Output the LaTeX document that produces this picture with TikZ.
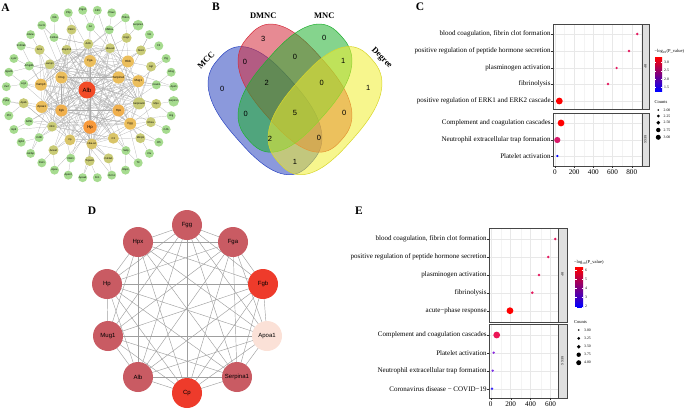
\documentclass[tikz,border=0pt]{standalone}
\usepackage{fontspec}
\setmainfont{Liberation Serif}
\setsansfont{Liberation Sans}
\usepackage{xcolor}
\usepackage{tikz}
\usetikzlibrary{backgrounds}
\usetikzlibrary{calc}

\definecolor{netred}{HTML}{F24B27}
\definecolor{nethp}{HTML}{F89A3C}
\definecolor{netorange}{HTML}{F0B04E}
\definecolor{netyellow}{HTML}{EBBE5C}
\definecolor{netolivey}{HTML}{D9C468}
\definecolor{netolive}{HTML}{C9CB76}
\definecolor{netgreen}{HTML}{A6DB8F}
\definecolor{edgegray}{HTML}{ABABAB}
\definecolor{hubrose}{HTML}{C95B63}
\definecolor{hubred}{HTML}{EE3B2B}
\definecolor{hubpale}{HTML}{FBE1D7}
\definecolor{vennblue}{HTML}{2B45C0}
\definecolor{vennred}{HTML}{D42A3A}
\definecolor{venngreen}{HTML}{20B030}
\definecolor{vennyellow}{HTML}{F0EE30}
\definecolor{dotA}{HTML}{E5195F}
\definecolor{dotB}{HTML}{D81B6A}
\definecolor{dotC}{HTML}{EC1556}
\definecolor{dotV}{HTML}{8B2BE0}
\definecolor{dotW}{HTML}{7B2FE8}
\definecolor{dotU}{HTML}{3A2AF5}
\definecolor{barmid}{HTML}{C2009E}

% one set of the four-set diagram (a flattened ellipse), in the unit square of panel B
\newcommand{\vennellipse}[4]{%
  \draw[#4, declare function={vcs(\t)=0.327*pow(abs(cos(\t)),0.769)*cos(\t)/abs(cos(\t));
                               vsn(\t)=0.187*pow(abs(sin(\t)),0.769)*sin(\t)/abs(sin(\t));}]
    plot[domain=1:356, samples=72, smooth cycle, variable=\t]
    ({295+200*(#1+vcs(\t)*cos(#3)-vsn(\t)*sin(#3)-0.5)},
     {216.4-225*(#2+vcs(\t)*sin(#3)+vsn(\t)*cos(#3))});}

\tikzset{
  panellab/.style={font=\bfseries\fontsize{11.5}{12}\selectfont, inner sep=0pt},
  anode/.style={circle, inner sep=0pt, font=\sffamily\fontsize{2.6}{3}\selectfont},
  agrn/.style={anode, fill=netgreen, minimum size=9pt},
  aoli/.style={anode, fill=netolive, minimum size=10pt},
  aolY/.style={anode, fill=netolivey, minimum size=11pt},
  ayel/.style={anode, fill=netyellow, minimum size=12pt, font=\sffamily\fontsize{3}{3.5}\selectfont},
  aora/.style={anode, fill=netorange, minimum size=12pt, font=\sffamily\fontsize{3}{3.5}\selectfont},
  ahp/.style={anode, fill=nethp, minimum size=13.5pt, font=\sffamily\fontsize{4.2}{5}\selectfont},
  aalb/.style={anode, fill=netred, minimum size=17pt, font=\sffamily\fontsize{6}{7}\selectfont},
  aedge/.style={draw=edgegray, line width=0.2pt},
  dnode/.style={circle, inner sep=0pt, minimum size=30pt, fill=hubrose, font=\sffamily\fontsize{6}{7}\selectfont},
  dtop/.style={dnode, fill=hubred},
  dlow/.style={dnode, fill=hubpale},
  dedge/.style={draw=gray!75, line width=0.45pt},
  vblue/.style={draw=vennblue, fill=vennblue, fill opacity=0.55, line width=0.5pt},
  vred/.style={draw=vennred, fill=vennred, fill opacity=0.55, line width=0.5pt},
  vgreen/.style={draw=venngreen, fill=venngreen, fill opacity=0.55, line width=0.5pt},
  vyellow/.style={draw=vennyellow!90!black, fill=vennyellow, fill opacity=0.55, line width=0.5pt},
  vennlab/.style={font=\bfseries\fontsize{8.5}{9}\selectfont, inner sep=0pt},
  vennnum/.style={font=\sffamily\fontsize{7.5}{8}\selectfont, inner sep=0pt},
  ylab/.style={anchor=east, font=\fontsize{7}{8}\selectfont, inner sep=0.5pt},
  xlab/.style={font=\fontsize{7.2}{8}\selectfont, inner sep=0pt},
  gridmaj/.style={draw=gray!18, line width=0.35pt},
  gridmin/.style={draw=gray!9, line width=0.2pt},
  panelbox/.style={draw=gray!55!black, line width=0.4pt},
  stripbox/.style={draw=gray!55!black, fill=gray!25, line width=0.4pt},
  striptxt/.style={rotate=-90, font=\fontsize{3.2}{4}\selectfont, inner sep=0pt},
  axtick/.style={draw=gray!40!black, line width=0.3pt},
  legtitle/.style={anchor=west, font=\fontsize{4.5}{5}\selectfont, inner sep=0pt},
  legtxt/.style={anchor=west, font=\fontsize{3.8}{4.5}\selectfont, inner sep=0pt}
}

\begin{document}
\begin{tikzpicture}[x=1pt,y=-1pt]
\useasboundingbox (0,0) rectangle (685,410);

% ---------- A: interaction network
\node[panellab] (labA) at (5.5,7.5) {A};
\node[aalb] (c0) at (87,90) {Alb};
\foreach \nm/\col [count=\i] in {Fga/ayel,Serpina1/ayel,Hpx/aora,Hp/ahp,Fgb/aora,Ctsg/ayel}
  \node[\col] (c\i) at ({90+33*cos(-90+60*(\i-1))},{94+33*sin(-90+60*(\i-1))}) {\nm};
\foreach \nm/\col [count=\i from 7] in {Actb/aoli,Hba-a1/aoli,Hbb/ayel,Mug1/ayel,Serpina3n/aoli,Fgg/ayel,C3/aolY,
    Hba-a2/aolY,Cp/aolY,Itih4/aoli,Apoa1/ayel,Vamp3/ayel,Lamp1/aoli,Mapk14/aoli}
  \node[\col] (c\i) at ({90+50*cos(-92+25.7*(\i-7))},{94+50*sin(-92+25.7*(\i-7))}) {\nm};
\foreach \nm/\col [count=\i] in {Fbln1/aoli,Gc/agrn,Nfkbia/agrn,Kng1/aoli,Nos3/aoli,Agt/aoli,Vcam1/agrn,Mpo/aoli,
    Rhoa/aoli,Mmp9/aoli,Selp/agrn,Col3a1/aoli,Tspan8/aoli,Dbn1/agrn,Anxa2/aoli,Cd5l/agrn,Sdhb/agrn,Apob/aoli,
    Lrg1/agrn,Arhgdib/agrn,Smo/aoli,Col2a1/agrn}
  \node[\col] (m\i) at ({90+67*cos(-106+16.36*(\i-1))},{94+67*sin(-106+16.36*(\i-1))}) {\nm};
\foreach \nm [count=\i] in {Pltp,Ptgs2,Cd9,Plaur,Thbs1,Serpine1,Vtn,F2,Plg,Ahsg,Apoh,Serpinc1,Hrg,C4b,Cfh,Clu,Ttr,Rbp4,
    Orm1,Fn1,Apoa4,Apoc3,Apoe,Pon1,Ambp,Itgb3,Gp9,Pf4,Ppbp,Vwf,Itga2b,Lyz2,S100a9,Elane,Cxcl1,Il1b}
  \node[agrn] (o\i) at ({90+84*cos(-105+10*(\i-1))},{94+84*sin(-105+10*(\i-1))}) {\nm};

\begin{scope}[on background layer]
  % hub to the core
  \foreach \k in {1,...,20} {\draw[aedge] (c0) -- (c\k);}
  % core mesh
  \foreach \i in {1,...,19} {
    \pgfmathtruncatemacro\ii{\i+1}
    \foreach \j in {\ii,...,20} {
      \pgfmathtruncatemacro\pick{mod(\i*\j+2*\i+\j,5)}
      \ifnum\pick<3 \draw[aedge] (c\i) -- (c\j);\fi}}
  % second ring into the core
  \foreach \k in {1,...,22} {
    \pgfmathtruncatemacro\ea{mod(3*\k+1,20)+1}
    \pgfmathtruncatemacro\eb{mod(7*\k+9,20)+1}
    \pgfmathtruncatemacro\ec{mod(11*\k+4,20)+1}
    \draw[aedge] (m\k) -- (c\ea);
    \draw[aedge] (m\k) -- (c\eb);
    \draw[aedge] (m\k) -- (c\ec);
    \ifodd\k \draw[aedge] (m\k) -- (c0);\fi}
  % outer ring
  \foreach \k in {1,...,36} {
    \pgfmathtruncatemacro\mi{mod(round((10*\k-9)/16.36),22)+1}
    \draw[aedge] (o\k) -- (m\mi);
    \pgfmathtruncatemacro\ea{mod(5*\k,14)+7}
    \ifodd\k \draw[aedge] (o\k) -- (c\ea);\fi}
\end{scope}

% ---------- B: four-set Venn
\node[panellab] (labB) at (216,7) {B};
\vennellipse{0.35}{0.47}{135}{vblue}
\vennellipse{0.5}{0.57}{135}{vred}
\vennellipse{0.5}{0.57}{45}{vgreen}
\vennellipse{0.65}{0.47}{45}{vyellow}
\node[vennlab] (setDMNC) at (263.3,15.7) {DMNC};
\node[vennlab] (setMNC) at (324.3,15.7) {MNC};
\node[vennlab, rotate=45] (setMCC) at (206,60) {MCC};
\node[vennlab, rotate=-45] (setDeg) at (381.7,58.3) {Degree};
\foreach \n/\xx/\yy [count=\i] in {3/263.3/39.3, 0/324.3/38.3, 0/245/61.7, 0/295/57.3, 1/343.3/60.7,
    0/222.3/89.3, 2/266.7/82.7, 0/321.7/82.7, 1/368.3/88.3, 0/245.7/114, 5/295/112.7, 0/344.3/112.7,
    2/270/139.3, 0/319/138.3, 1/295/161.7}
  \node[vennnum] (v\i) at (\xx,\yy) {\n};

% ---------- C: enrichment of the hub genes
\node[panellab] (labC) at (420,6.5) {C};
\foreach \ya/\yb in {24/109, 113/166} {
  \foreach \v in {100,300,...,900} {\draw[gridmin] ({555+0.0959*\v},\ya) -- ({555+0.0959*\v},\yb);}
  \foreach \v in {0,200,...,800} {\draw[gridmaj] ({555+0.0959*\v},\ya) -- ({555+0.0959*\v},\yb);}}
\foreach \lab/\yy [count=\i] in {{blood coagulation, fibrin clot formation}/34,
    positive regulation of peptide hormone secretion/51, plasminogen activation/68, fibrinolysis/84,
    positive regulation of ERK1 and ERK2 cascade/101, Complement and coagulation cascades/123,
    Neutrophil extracellular trap formation/140, Platelet activation/156} {
  \draw[gridmaj] (553,\yy) -- (642,\yy);
  \draw[axtick] (551.3,\yy) -- (553,\yy);
  \node[ylab] (cy\i) at (551.3,\yy) {\lab};}
\foreach \ya/\yb/\st in {24/109/BP, 113/166/KEGG} {
  \draw[panelbox] (553,\ya) rectangle (642,\yb);
  \draw[stripbox] (642,\ya) rectangle (649,\yb);
  \node[striptxt] at (645.5,{(\ya+\yb)/2}) {\st};}
\foreach \v in {0,200,...,800} {
  \draw[axtick] ({555+0.0959*\v},166) -- ({555+0.0959*\v},167.6);
  \node[xlab] (cx\v) at ({555+0.0959*\v},171.7) {\v};}
\foreach \v/\yy/\rr/\dc in {858/34/1.3/dotA, 772/51/1.3/dotA, 643/68/1.3/dotA, 553/84/1.3/dotA,
    45/101/3.4/red, 63/123/3.4/red, 24/140/3.1/dotB, 24/156/1.2/blue}
  \fill[\dc] ({555+0.0959*\v},\yy) circle (\rr);
% legends
\node[legtitle] (ctitle) at (654.5,51.7) {−log\textsubscript{10}(P\_value)};
\shade[top color=red, middle color=barmid, bottom color=blue] (655,57) rectangle (662,91);
\foreach \lab/\yy in {3.0/62.3, 2.5/70.7, 2.0/79.3, 1.5/87.3} {
  \draw[white, line width=0.3pt] (655,\yy) -- (656.3,\yy) (660.7,\yy) -- (662,\yy);
  \node[legtxt] at (664,\yy) {\lab};}
\node[legtitle] (ccount) at (654.5,101.7) {Counts};
\foreach \lab/\yy/\rr in {2.00/110/0.9, 2.25/116/1.5, 2.50/122.7/1.9, 2.75/130/2.2, 3.00/137.3/2.5} {
  \fill[black] (658.3,\yy) circle (\rr);
  \node[legtxt] at (663.5,\yy) {\lab};}

% ---------- D: hub genes
\node[panellab] (labD) at (92,211) {D};
\foreach \nm/\xx/\yy/\col [count=\i] in {Fgg/187/225/dnode, Fga/233/242/dnode, Fgb/263/284/dtop,
    Apoa1/267/336/dlow, Serpina1/237/377/dnode, Cp/187/393/dtop, Alb/138/377/dnode, Mug1/108/336/dnode,
    Hp/107/284/dnode, Hpx/138/242/dnode}
  \node[\col] (d\i) at (\xx,\yy) {\nm};
\begin{scope}[on background layer]
  \foreach \i in {1,...,9} {
    \pgfmathtruncatemacro\ii{\i+1}
    \foreach \j in {\ii,...,10} {\draw[dedge] (d\i.center) -- (d\j.center);}}
\end{scope}

% ---------- E: enrichment of the ten hub genes
\node[panellab] (labE) at (359,211) {E};
\foreach \ya/\yb in {227.7/321.7, 324/398} {
  \foreach \v in {100,300,500} {\draw[gridmin] ({490.7+0.0998*\v},\ya) -- ({490.7+0.0998*\v},\yb);}
  \foreach \v in {0,200,...,600} {\draw[gridmaj] ({490.7+0.0998*\v},\ya) -- ({490.7+0.0998*\v},\yb);}}
\foreach \lab/\yy [count=\i] in {{blood coagulation, fibrin clot formation}/239,
    positive regulation of peptide hormone secretion/257, plasminogen activation/275, fibrinolysis/292.7,
    acute−phase response/310.7, Complement and coagulation cascades/335, Platelet activation/352.7,
    Neutrophil extracellular trap formation/370.7, Coronavirus disease − COVID−19/388.7} {
  \draw[gridmaj] (489,\yy) -- (558,\yy);
  \draw[axtick] (487.3,\yy) -- (489,\yy);
  \node[ylab] (ey\i) at (487.3,\yy) {\lab};}
\foreach \ya/\yb/\st in {227.7/321.7/BP, 324/398/KEGG} {
  \draw[panelbox] (489,\ya) rectangle (558,\yb);
  \draw[stripbox] (558,\ya) rectangle (567,\yb);
  \node[striptxt] at (562.5,{(\ya+\yb)/2}) {\st};}
\foreach \v in {0,200,...,600} {
  \draw[axtick] ({490.7+0.0998*\v},398) -- ({490.7+0.0998*\v},399.6);
  \node[xlab] (ex\v) at ({490.7+0.0998*\v},404) {\v};}
\foreach \v/\yy/\rr/\dc in {647/239/1.4/dotA, 577/257/1.4/dotA, 484/275/1.4/dotA, 417/292.7/1.4/dotA,
    193/310.7/3.4/red, 60/335/3.4/dotC, 30/352.7/1.3/dotV, 20/370.7/1.3/dotW, 13/388.7/1.3/dotU}
  \fill[\dc] ({490.7+0.0998*\v},\yy) circle (\rr);
% legends
\node[legtitle] (etitle) at (574,262) {−log\textsubscript{10}(P\_value)};
\shade[top color=red, middle color=barmid, bottom color=blue] (575,267.7) rectangle (583,307.3);
\foreach \lab/\yy in {6/270, 5/279, 4/288, 3/297.3, 2/306.7} {
  \draw[white, line width=0.3pt] (575,\yy) -- (576.5,\yy) (581.5,\yy) -- (583,\yy);
  \node[legtxt] at (585,\yy) {\lab};}
\node[legtitle] (ecount) at (574,322.3) {Counts};
\foreach \lab/\yy/\rr in {3.00/330/0.9, 3.25/338.3/1.5, 3.50/346.7/1.9, 3.75/354.7/2.2, 4.00/362.7/2.5} {
  \fill[black] (578.7,\yy) circle (\rr);
  \node[legtxt] at (584,\yy) {\lab};}
\end{tikzpicture}
\end{document}
